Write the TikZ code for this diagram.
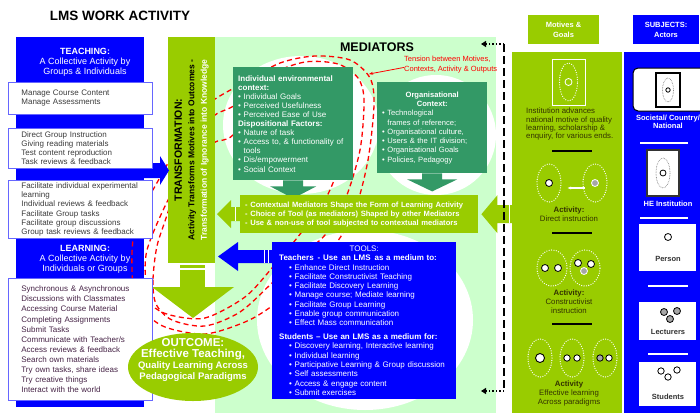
\documentclass[tikz,border=0pt]{standalone}
\usepackage{fontspec}
\setmainfont{Liberation Sans}
\usetikzlibrary{arrows.meta,shapes.geometric}

\definecolor{lmsblue}{RGB}{0,0,255}
\definecolor{lmsgreen}{RGB}{153,204,0}
\definecolor{darkgreen}{RGB}{51,153,102}
\definecolor{palegreen}{RGB}{204,255,204}
\definecolor{boxline}{RGB}{102,102,255}
\definecolor{olivetext}{RGB}{51,51,0}
\definecolor{listtext}{RGB}{60,60,60}
\definecolor{purpletext}{RGB}{70,35,70}

\newcommand{\toolitem}{\hspace*{13pt}\textbullet\ }

\begin{document}
\begin{tikzpicture}[x=1pt,y=-1pt,
		listbox/.style={draw=boxline,line width=0.8pt,fill=white,anchor=north west,text width=118pt,inner xsep=13pt,inner ysep=0pt,align=left,font=\fontsize{8}{9.1}\selectfont,text=listtext},
		headtext/.style={text=white,align=center,font=\fontsize{9}{10}\selectfont},
		ctxbox/.style={fill=darkgreen,text=white,anchor=north west,inner xsep=5pt,align=left},
		tensionloop/.style={draw=red,line width=1.3pt,dash pattern=on 5pt off 3.5pt},
		feedback/.style={draw=black,line width=1.5pt,dash pattern=on 8pt off 4pt},
		feeddot/.style={draw=black,line width=1.2pt,dash pattern=on 1.5pt off 2pt,-{Triangle[length=5pt,width=6pt]}},
		dotring/.style={draw=white,line width=1.3pt,dash pattern=on 0pt off 2.4pt,line cap=round},
		acttext/.style={align=center,text=olivetext,font=\fontsize{7.8}{9}\selectfont},
		subjtext/.style={text=white,align=center,font=\bfseries\fontsize{7.5}{8}\selectfont},
		persontext/.style={text=black!80,font=\bfseries\fontsize{7.5}{9}\selectfont},
		whitecard/.style={fill=white,anchor=north west,inner sep=0pt,minimum width=57pt}
	]
	\useasboundingbox (0,0) rectangle (700,412);

	% Title
	\node[font=\bfseries\fontsize{13.5}{16}\selectfont] (title) at (120,16) {LMS WORK ACTIVITY};

	% Mediators background
	\node[fill=palegreen,anchor=north west,inner sep=0pt,minimum width=281pt,minimum height=376pt] (medbg) at (215,37) {};
	\fill[white] (301,125) ellipse [x radius=78pt, y radius=69pt];
	\fill[white] (436,135) ellipse [x radius=60pt, y radius=60pt];
	\fill[white] (365,320) ellipse [x radius=108pt, y radius=90pt];

	% Left column (teaching / learning)
	\node[fill=lmsblue,anchor=north west,inner sep=0pt,minimum width=128pt,minimum height=370pt] (leftcol) at (16,37) {};

	% Tension loops
	\draw[tensionloop] plot[smooth cycle] coordinates {(133,240) (133,285) (143,310) (165,327) (205,334) (245,322) (272,306) (305,278) (335,245) (355,210) (368,160) (374,105) (370,78) (350,60) (315,56) (280,63) (245,82) (215,99) (190,118) (168,163) (145,205)};
	\draw[tensionloop] plot[smooth cycle] coordinates {(157,246) (153,280) (156,304) (172,320) (205,326) (240,312) (272,283) (300,256) (325,235) (345,200) (360,150) (364,100) (358,78) (338,64) (305,62) (270,75) (235,105) (215,115) (190,140) (168,212)};
	\draw[tensionloop] plot[smooth cycle] coordinates {(147,250) (146,285) (152,305) (170,315) (205,318) (245,297) (272,268) (297,238) (325,200) (345,150) (352,105) (347,83) (330,70) (300,70) (265,90) (233,135) (213,143) (190,165) (168,200)};

	% Transformation bar and arrow to outcome
	\node[fill=lmsgreen,rotate=90,minimum width=226pt,minimum height=47pt,inner sep=0pt,align=center,font=\bfseries\fontsize{8.5}{12.5}\selectfont] (transbar) at (191.5,150) {{\fontsize{10.5}{12.5}\selectfont TRANSFORMATION:}\\Activity Transforms Motives into Outcomes -\\\textcolor{white}{Transformation of Ignorance into Knowledge}};
	\fill[lmsgreen] (180,265) rectangle (205,267.5);
	\fill[lmsgreen] (180,270) rectangle (205,288);
	\fill[lmsgreen] (152,287) -- (234,287) -- (193,318) -- cycle;

	% Teaching arrow
	\fill[lmsblue] (144,163) -- (160,163) -- (160,156) -- (169,170.5) -- (160,185) -- (160,178) -- (144,178) -- cycle;

	% Teaching boxes
	\node[headtext] (teachhead) at (85,62) {\textbf{TEACHING:}\\A Collective Activity by\\Groups \& Individuals};
	\node[listbox,minimum height=32pt] (manage) at (8,82) {Manage Course Content\\Manage Assessments};
	\node[listbox,minimum height=40pt] (direct) at (8,128) {Direct Group Instruction\\Giving reading materials\\Test content reproduction\\Task reviews \& feedback};
	\node[listbox,minimum height=58pt] (facil) at (8,180) {Facilitate individual experimental\\learning\\Individual reviews \& feedback\\Facilitate Group tasks\\Facilitate group discussions\\Group task reviews \& feedback};

	% Learning boxes
	\node[headtext] (learnhead) at (85,259) {\textbf{LEARNING:}\\A Collective Activity by\\Individuals or Groups};
	\node[listbox,minimum height=122pt,text=purpletext,font=\fontsize{8}{10.1}\selectfont] (sync) at (8,278) {Synchronous \& Asynchronous\\Discussions with Classmates\\Accessing Course Material\\Completing Assignments\\Submit Tasks\\Communicate with Teacher/s\\Access reviews \& feedback\\Search own materials\\Try own tasks, share ideas\\Try creative things\\Interact with the world};

	% Mediators
	\node[font=\bfseries\fontsize{12.5}{14}\selectfont] (medtitle) at (377,47) {MEDIATORS};
	\node[text=red,anchor=north west,align=left,inner sep=0pt,font=\fontsize{7.5}{9.5}\selectfont] (tensiontext) at (404,56) {Tension between Motives,\\Contexts, Activity \& Outputs};
	\coordinate (tensiontip) at (369,74);
	\draw[red,line width=0.8pt,-{Stealth[length=4pt]}] ([yshift=-3pt]tensiontext.west) -- (tensiontip);

	\node[ctxbox,text width=110pt,minimum height=113pt,font=\fontsize{8}{9.1}\selectfont] (indiv) at (233,67) {\textbf{Individual environmental}\\\textbf{context:}\\\textbullet\ Individual Goals\\\textbullet\ Perceived Usefulness\\\textbullet\ Perceived Ease of Use\\\textbf{Dispositional Factors:}\\\textbullet\ Nature of task\\\textbullet\ Access to, \& functionality of\\\hphantom{\textbullet\ }tools\\\textbullet\ Dis/empowerment\\\textbullet\ Social Context};
	\fill[darkgreen] (indiv.south) ++(-10,0) -- ++(0,6) -- ++(-13,0) -- ++(23,12) -- ++(23,-12) -- ++(-13,0) -- ++(0,-6) -- cycle;

	\node[ctxbox,text width=100pt,minimum height=91pt,font=\fontsize{7.6}{9.3}\selectfont] (orgctx) at (377,82) {\makebox[100pt]{\bfseries Organisational}\\\makebox[100pt]{\bfseries Context:}\\\textbullet\ Technological\\\hphantom{\textbullet\ }frames of reference;\\\textbullet\ Organisational culture,\\\textbullet\ Users \& the IT division;\\\textbullet\ Organisational Goals\\\textbullet\ Policies, Pedagogy};
	\fill[darkgreen] (orgctx.south) ++(-10,0) -- ++(0,6) -- ++(-15,0) -- ++(25,12) -- ++(25,-12) -- ++(-15,0) -- ++(0,-6) -- cycle;

	% Contextual mediators bar
	\node[fill=lmsgreen,text=white,anchor=north west,text width=228pt,inner xsep=5pt,minimum height=38pt,align=left,font=\bfseries\fontsize{7.6}{9}\selectfont] (ctxbar) at (240,195) {- Contextual Mediators Shape the Form of Learning Activity\\- Choice of Tool (as mediators) Shaped by other Mediators\\- Use \& non-use of tool subjected to contextual mediators};
	\fill[lmsgreen] (ctxbar.west) ++(0,-7) -- ++(-9,0) -- ++(0,-7) -- ++(-14,14) -- ++(14,14) -- ++(0,-7) -- ++(9,0) -- cycle;
	\draw[white,line width=1pt] (235,207) -- (235,221);
	\fill[lmsgreen] (ctxbar.east) ++(3,0) -- ++(16,-19) -- ++(0,10) -- ++(15,0) -- ++(0,18) -- ++(-15,0) -- ++(0,10) -- cycle;
	\draw[white,line width=0.8pt] (509,205) -- (509,223);

	% Tools
	\node[fill=lmsblue,text=white,anchor=north west,text width=176pt,inner xsep=4pt,minimum height=157pt,align=left,font=\fontsize{8}{9.3}\selectfont] (tools) at (272,242) {\makebox[176pt]{TOOLS:}\\\hspace*{3pt}\textbf{Teachers\enspace- Use\enspace an LMS\enspace as a medium to:}\\\toolitem Enhance Direct Instruction\\\toolitem Facilitate Constructivist Teaching\\\toolitem Facilitate Discovery Learning\\\toolitem Manage course; Mediate learning\\\toolitem Facilitate Group Learning\\\toolitem Enable group communication\\\toolitem Effect Mass communication\\[4.5pt]\hspace*{3pt}\textbf{Students -- Use an LMS as a medium for:}\\\toolitem Discovery learning, Interactive learning\\\toolitem Individual learning\\\toolitem Participative Learning \& Group discussion\\\toolitem Self assessments\\\toolitem Access \& engage content\\\toolitem Submit exercises};
	% Learning arrow
	\fill[lmsblue] (tools.west |- 0,250) -- (238,250) -- (238,242) -- (218,256.5) -- (238,271) -- (238,263) -- (tools.west |- 0,263) -- cycle;
	\draw[white,line width=0.8pt] (264.5,250) -- (264.5,263) (268.5,250) -- (268.5,263);

	% Outcome
	\node[ellipse,fill=lmsgreen,minimum width=130pt,minimum height=68pt,inner sep=0pt] (outcome) at (193,367) {};
	\node[text=white,align=center,font=\bfseries\fontsize{9.5}{11.3}\selectfont] (outcometext) at (193,360) {{\fontsize{11.5}{11.3}\selectfont OUTCOME:}\\{\fontsize{11.5}{11.3}\selectfont Effective Teaching,}\\Quality Learning Across\\Pedagogical Paradigms};

	% Feedback line
	\coordinate (fbtop) at (504,44);
	\coordinate (fbbot) at (504,391);
	\coordinate (fbtopend) at (481,44);
	\coordinate (fbbotend) at (481,391);

	% Motives and goals
	\node[fill=lmsgreen,text=white,align=center,inner sep=0pt,minimum width=71pt,minimum height=29pt,font=\bfseries\fontsize{7.5}{10}\selectfont] (motgoals) at (563.5,29.5) {Motives \&\\Goals};
	\node[fill=lmsgreen,anchor=north west,inner sep=0pt,minimum width=110pt,minimum height=362pt] (motpanel) at (512,52) {};
	\draw[feedback] (fbtop) -- (fbbot);
	\draw[feeddot] (fbtop) -- (fbtopend);
	\draw[feeddot] (fbbot) -- (fbbotend);

	\draw[white,line width=1pt] (552,59) rectangle (585,105);
	\draw[dotring] (568.5,82) ellipse [x radius=9pt, y radius=19pt];
	\draw[white,line width=0.8pt] (568.5,82) circle [radius=3.5pt];
	\node[anchor=north west,align=left,inner sep=0pt,text=olivetext,font=\fontsize{7.8}{8.2}\selectfont] (institution) at (526,108) {Institution advances\\national motive of quality\\learning, scholarship \&\\enquiry, for various ends.};
	\draw[black,line width=1.5pt] (552,151) -- (592,151);

	\draw[dotring] (549,183) ellipse [x radius=12pt, y radius=19pt];
	\draw[dotring] (595,183) ellipse [x radius=12pt, y radius=19pt];
	\draw[fill=white,draw=black,line width=0.8pt] (549,183) circle [radius=3.5pt];
	\draw[fill=gray!70,draw=white,line width=0.8pt] (595,183) circle [radius=3.5pt];
	\coordinate (dirfrom) at (585,188);
	\coordinate (dirto) at (567,188);
	\draw[white,line width=1.2pt,-{Latex[length=4pt]}] (dirfrom) -- (dirto);
	\node[acttext] (actdirect) at (569,214.5) {\textbf{Activity:}\\Direct instruction};
	\draw[black,line width=1.5pt] (552,233) -- (592,233);

	\draw[dotring] (552,268) ellipse [x radius=15pt, y radius=18pt];
	\draw[dotring] (585,268) ellipse [x radius=15pt, y radius=18pt];
	\foreach \cx/\cy in {545/268,558/268,578/263,591/264}
		\draw[fill=white,draw=black,line width=0.8pt] (\cx,\cy) circle [radius=3.5pt];
	\draw[fill=gray!70,draw=white,line width=0.8pt] (584,271) circle [radius=3.5pt];
	\node[acttext] (actcons) at (569,302) {\textbf{Activity:}\\Constructivist\\instruction};
	\draw[black,line width=1.5pt] (552,324) -- (592,324);

	\foreach \ex in {540,572,605}
		\draw[dotring] (\ex,358) ellipse [x radius=12pt, y radius=19pt];
	\draw[fill=white,draw=black,line width=0.9pt] (540,358) circle [radius=4.5pt];
	\foreach \cx in {567,577,609}
		\draw[fill=white,draw=black,line width=0.8pt] (\cx,358) circle [radius=3.2pt];
	\draw[fill=gray!70,draw=black,line width=0.8pt] (600,358) circle [radius=3.2pt];
	\node[acttext] (acteff) at (569,393) {\textbf{Activity}\\Effective learning\\Across paradigms};

	% Subjects
	\node[fill=lmsblue,text=white,align=center,inner sep=0pt,minimum width=66pt,minimum height=29pt,font=\bfseries\fontsize{7.5}{10}\selectfont] (subjhead) at (666,29.5) {SUBJECTS:\\Actors};
	\node[fill=lmsblue,anchor=north west,inner sep=0pt,minimum width=78pt,minimum height=362pt] (subpanel) at (624,52) {};

	\draw[fill=white,draw=black,line width=1pt,rounded corners=5pt] (633,68) rectangle (708,111);
	\draw[fill=white,draw=black,line width=1.3pt] (656,73) rectangle (680,107);
	\draw[draw=gray,line width=0.9pt,dash pattern=on 0pt off 1.6pt,line cap=round] (668,90) ellipse [x radius=5.5pt, y radius=12pt];
	\draw[black,line width=0.8pt] (668,90) circle [radius=2.2pt];
	\node[subjtext] (societal) at (668,122) {Societal/ Country/\\National};
	\draw[white,line width=1.5pt] (640,143) -- (688,143);

	\draw[fill=white,draw=black!80,line width=1.3pt] (647,150) rectangle (679,196);
	\draw[draw=gray,line width=0.9pt,dash pattern=on 0pt off 1.6pt,line cap=round] (663,173) ellipse [x radius=7pt, y radius=15pt];
	\draw[black,line width=0.8pt] (663,173) circle [radius=3pt];
	\node[subjtext] (heinst) at (668,204) {HE Institution};
	\draw[white,line width=1.5pt] (640,218) -- (688,218);

	\node[whitecard,minimum height=47pt] (personcard) at (639,224) {};
	\draw[black,line width=0.8pt] (668,237) circle [radius=3.5pt];
	\node[persontext] (person) at (668,259) {Person};
	\draw[white,line width=1.5pt] (648,286) -- (688,286);

	\node[whitecard,minimum height=38pt] (lectcard) at (639,302) {};
	\foreach \cx/\cy in {664/312,677/311,670/319}
		\draw[fill=gray!70,draw=black,line width=0.8pt] (\cx,\cy) circle [radius=3.5pt];
	\node[persontext] (lecturers) at (668,332) {Lecturers};
	\draw[white,line width=1.5pt] (648,354) -- (688,354);

	\node[whitecard,minimum height=44pt] (studcard) at (639,362) {};
	\foreach \cx/\cy in {661/371,677/370,668/377}
		\draw[fill=white,draw=black,line width=0.8pt] (\cx,\cy) circle [radius=3.2pt];
	\node[persontext] (students) at (668,397) {Students};
\end{tikzpicture}
\end{document}
